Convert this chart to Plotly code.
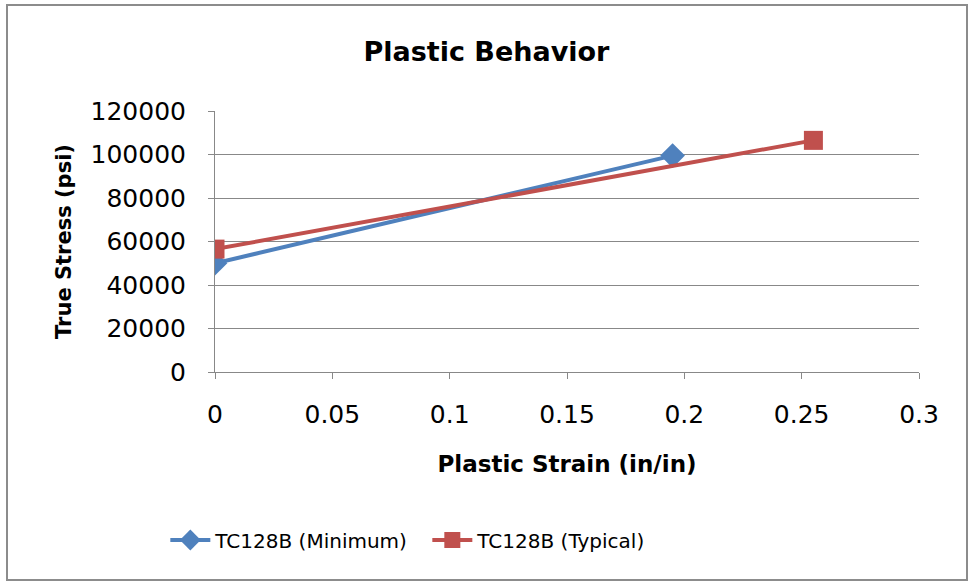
import plotly.graph_objects as go

# Data
min_strain = [0.0, 0.195]
min_stress = [50000, 99500]
typ_strain = [0.0, 0.255]
typ_stress = [56500, 106500]

x_ticks = [0, 0.05, 0.1, 0.15, 0.2, 0.25, 0.3]
x_tick_labels = ["0", "0.05", "0.1", "0.15", "0.2", "0.25", "0.3"]
y_ticks = [0, 20000, 40000, 60000, 80000, 100000, 120000]
y_tick_labels = ["0", "20000", "40000", "60000", "80000", "100000", "120000"]

FONT = "DejaVu Sans, sans-serif"
BLUE = "#4F81BD"
RED = "#C0504D"
GRID = "#888888"

fig = go.Figure()
fig.add_trace(go.Scatter(
    x=min_strain, y=min_stress, mode="lines+markers", name="TC128B (Minimum)",
    line=dict(color=BLUE, width=4),
    marker=dict(symbol="diamond", size=19, color=BLUE),
))
fig.add_trace(go.Scatter(
    x=typ_strain, y=typ_stress, mode="lines+markers", name="TC128B (Typical)",
    line=dict(color=RED, width=4),
    marker=dict(symbol="square", size=19, color=RED),
))

fig.update_layout(
    width=969, height=582,
    margin=dict(l=215, r=50, t=111, b=210),
    paper_bgcolor="white", plot_bgcolor="white",
    font=dict(family=FONT, size=20, color="black"),
    title=dict(text="<b>Plastic Behavior</b>", x=0.502, xref="container", xanchor="center",
               y=1 - 52 / 582, yref="container", yanchor="middle",
               font=dict(size=27, family=FONT, color="black")),
    showlegend=True,
    legend=dict(orientation="h", xref="container", yref="container", x=0.441, xanchor="center",
                y=1 - 540 / 582, yanchor="middle", font=dict(size=20, family=FONT),
                itemwidth=40, entrywidth=207, bgcolor="rgba(0,0,0,0)"),
    xaxis=dict(
        range=[0, 0.3], tickmode="array", tickvals=x_ticks, ticktext=x_tick_labels,
        showgrid=False, zeroline=False, showline=True, linecolor=GRID, linewidth=1,
        ticks="outside", ticklen=6, tickcolor=GRID, tickfont=dict(size=25),
        ticklabelstandoff=14,
        title=dict(text="<b>Plastic Strain (in/in)</b>", font=dict(size=23), standoff=27),
        fixedrange=True,
    ),
    yaxis=dict(
        range=[0, 120000], tickmode="array", tickvals=y_ticks, ticktext=y_tick_labels,
        showgrid=True, gridcolor=GRID, gridwidth=1, zeroline=False,
        showline=True, linecolor=GRID, linewidth=1,
        ticks="outside", ticklen=6, tickcolor=GRID, tickfont=dict(size=25),
        ticklabelstandoff=17,
        title=dict(text="<b>True Stress (psi)</b>", font=dict(size=21), standoff=13),
        fixedrange=True,
    ),
)

# Outer chart border
fig.add_shape(type="rect", xref="paper", yref="paper",
              x0=(7 - 215) / 704, x1=(967 - 215) / 704,
              y0=(372 - 580) / 261, y1=(372 - 5) / 261,
              line=dict(color="#8c8c8c", width=2), fillcolor="rgba(0,0,0,0)", layer="below")

fig.write_html("out.html")
